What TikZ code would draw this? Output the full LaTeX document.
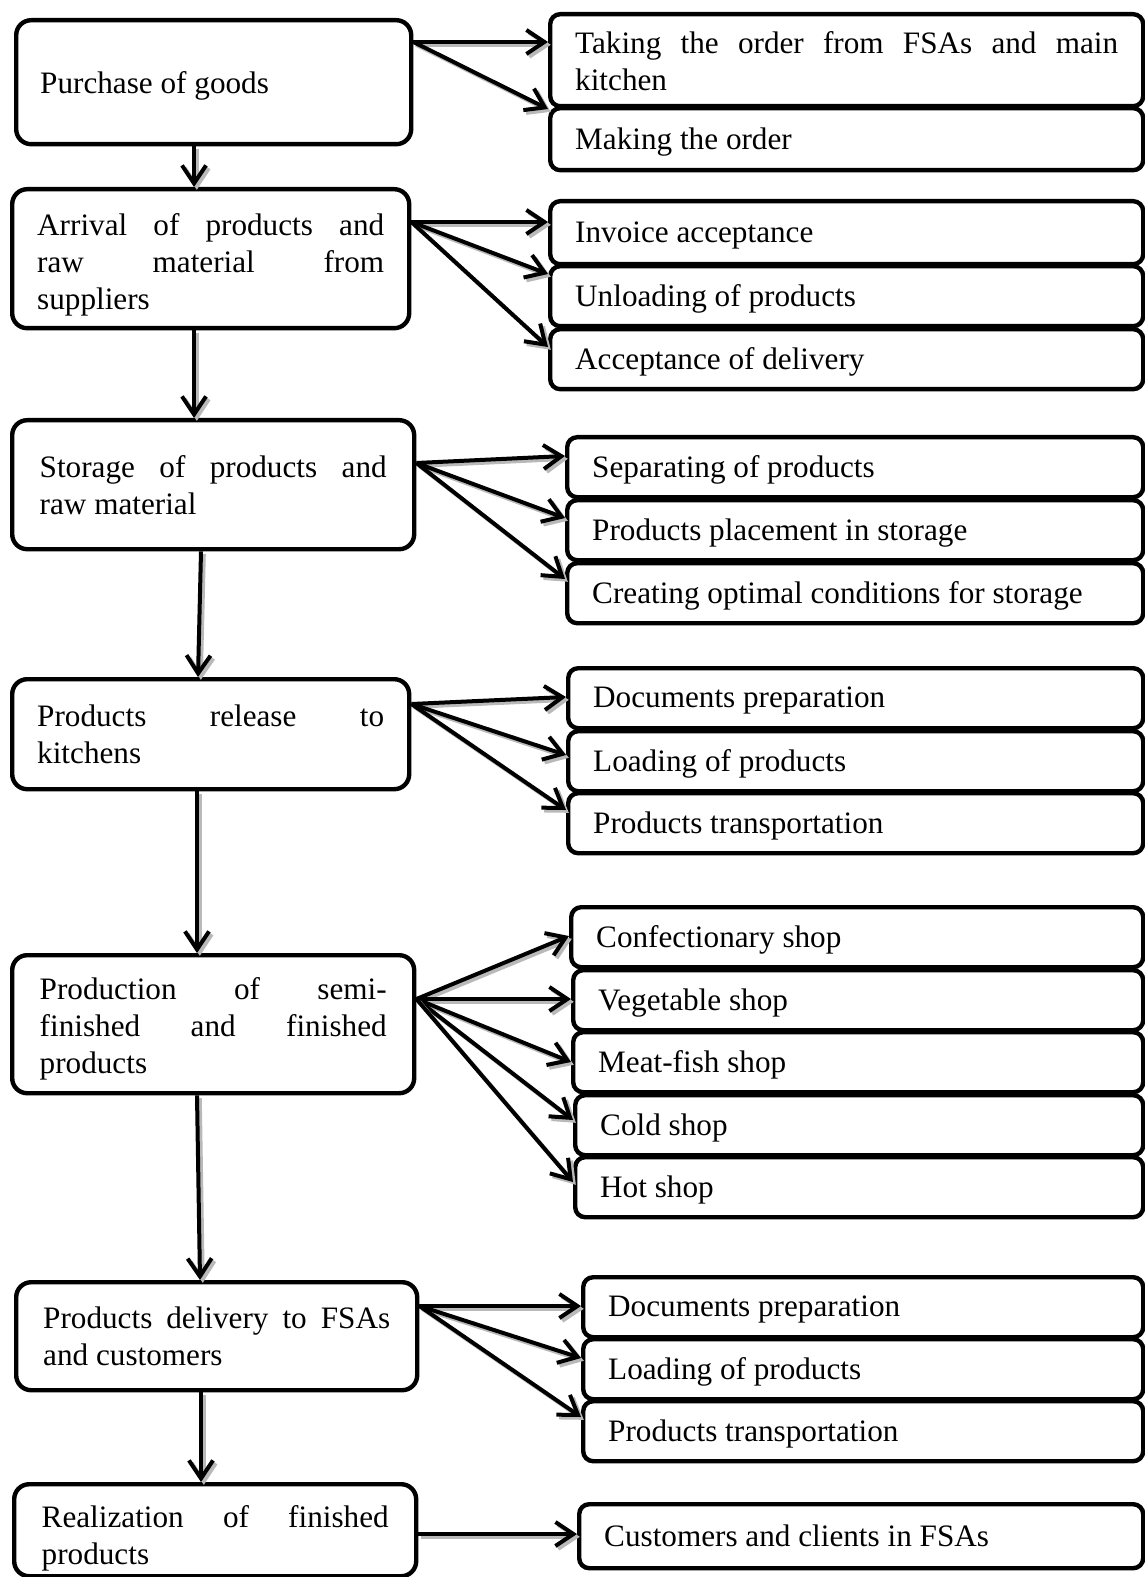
\documentclass[tikz,border=0pt]{standalone}
\usepackage{fontspec}
\setmainfont{Liberation Serif}
\usepackage{tikz}
\usetikzlibrary{arrows.meta, calc}
\tolerance=10000
\hbadness=10000

\begin{document}
\begin{tikzpicture}[x=0.5pt, y=-0.5pt,
  every node/.style={font=\fontsize{15.6pt}{18.5pt}\selectfont},
  lbox/.style={draw, line width=2.2pt, rounded corners=7.5pt, anchor=north west, align=justify, text width=173.5pt, inner xsep=12pt},
  rbox/.style={draw, line width=2.2pt, rounded corners=5pt, anchor=north west, align=justify, text width=#1, inner xsep=12.5pt, minimum height=30pt, text depth=1pt},
  flow/.style={-{Straight Barb[length=9pt,width=12pt]}, line width=2pt, preaction={draw=gray!55, line width=2pt, transform canvas={shift={(1.4pt,-1.4pt)}}}}]
  \useasboundingbox (0,0) rectangle (1144,1577);

  % main stages
  \node[lbox, minimum width=196.5pt, minimum height=62pt, text depth=0pt] (purchase) at (14,18) {Purchase of goods};
  \node[lbox, minimum width=198.5pt, minimum height=69.5pt, text depth=34pt] (arrival) at (10,187) {Arrival of products and\linebreak raw material from\linebreak suppliers};
  \node[lbox, minimum width=201pt, minimum height=64.5pt] (storage) at (10,418) {Storage of products and\linebreak raw material};
  \node[lbox, minimum width=198.5pt, minimum height=55pt] (release) at (10,677) {Products release to\linebreak kitchens};
  \node[lbox, minimum width=201pt, minimum height=69pt, text depth=36pt] (production) at (10,953) {Production of semi-\linebreak finished and finished\linebreak products};
  \node[lbox, minimum width=200.5pt, minimum height=54pt] (delivery) at (14,1280) {Products delivery to FSAs\linebreak and customers};
  \node[lbox, minimum width=201pt, minimum height=46pt, text depth=13.5pt] (realization) at (12,1482) {Realization of finished\linebreak products};

  % sub-steps
  \node[rbox=271.5pt, minimum height=46pt, text depth=18pt] (taking) at (548,12) {Taking the order from FSAs and main\linebreak kitchen};
  \node[rbox=271.5pt, minimum height=31pt] (making) at (548,106) {Making the order};

  \node[rbox=271.5pt, minimum height=31.5pt] (invoice) at (548,199) {Invoice acceptance};
  \node[rbox=271.5pt] (unloading) at (548,264) {Unloading of products};
  \node[rbox=271.5pt] (acceptance) at (548,327) {Acceptance of delivery};

  \node[rbox=263pt] (separating) at (565,435) {Separating of products};
  \node[rbox=263pt] (placement) at (565,498) {Products placement in storage};
  \node[rbox=263pt] (conditions) at (565,561) {Creating optimal conditions for storage};

  \node[rbox=262.5pt] (docsA) at (566,666) {Documents preparation};
  \node[rbox=262.5pt] (loadingA) at (566,729) {Loading of products};
  \node[rbox=262.5pt] (transportA) at (566,791) {Products transportation};

  \node[rbox=261pt] (confect) at (569,905) {Confectionary shop};
  \node[rbox=260pt] (vegetable) at (571,968) {Vegetable shop};
  \node[rbox=260pt] (meatfish) at (571,1030) {Meat-fish shop};
  \node[rbox=259pt] (cold) at (573,1093) {Cold shop};
  \node[rbox=259pt] (hot) at (573,1155) {Hot shop};

  \node[rbox=255pt] (docsB) at (581,1275) {Documents preparation};
  \node[rbox=255pt] (loadingB) at (581,1337) {Loading of products};
  \node[rbox=255pt] (transportB) at (581,1399) {Products transportation};

  \node[rbox=257pt, minimum height=32pt] (customers) at (577,1502) {Customers and clients in FSAs};

  % downward flow
  \draw[flow] ($(purchase.south west)+(180,0)$) -- ($(arrival.north west)+(184,0)$);
  \draw[flow] ($(arrival.south west)+(184,0)$) -- ($(storage.north west)+(184,0)$);
  \draw[flow] ($(storage.south west)+(191,0)$) -- ($(release.north west)+(188,0)$);
  \draw[flow] ($(release.south west)+(187,0)$) -- ($(production.north west)+(187,0)$);
  \draw[flow] ($(production.south west)+(187,0)$) -- ($(delivery.north west)+(186,0)$);
  \draw[flow] ($(delivery.south west)+(187,0)$) -- ($(realization.north west)+(189,0)$);

  % branches
  \foreach \t/\d in {taking/30, making/3}
    \draw[flow] ($(purchase.north east)+(0,24)$) -- ($(\t.north west)+(0,\d)$);
  \foreach \t/\d in {invoice/23, unloading/10, acceptance/20}
    \draw[flow] ($(arrival.north east)+(0,35)$) -- ($(\t.north west)+(0,\d)$);
  \foreach \t/\d in {separating/21, placement/20, conditions/18}
    \draw[flow] ($(storage.north east)+(0,45)$) -- ($(\t.north west)+(0,\d)$);
  \foreach \t/\d in {docsA/31, loadingA/26, transportA/19}
    \draw[flow] ($(release.north east)+(0,27)$) -- ($(\t.north west)+(0,\d)$);
  \foreach \t/\d in {confect/31, vegetable/31, meatfish/32, cold/27, hot/27}
    \draw[flow] ($(production.north east)+(0,46)$) -- ($(\t.north west)+(0,\d)$);
  \foreach \t/\d in {docsB/31, loadingB/21, transportB/18}
    \draw[flow] ($(delivery.north east)+(0,26)$) -- ($(\t.north west)+(0,\d)$);
  \draw[flow] ($(realization.north east)+(0,52)$) -- ($(customers.north west)+(0,32)$);
\end{tikzpicture}
\end{document}
